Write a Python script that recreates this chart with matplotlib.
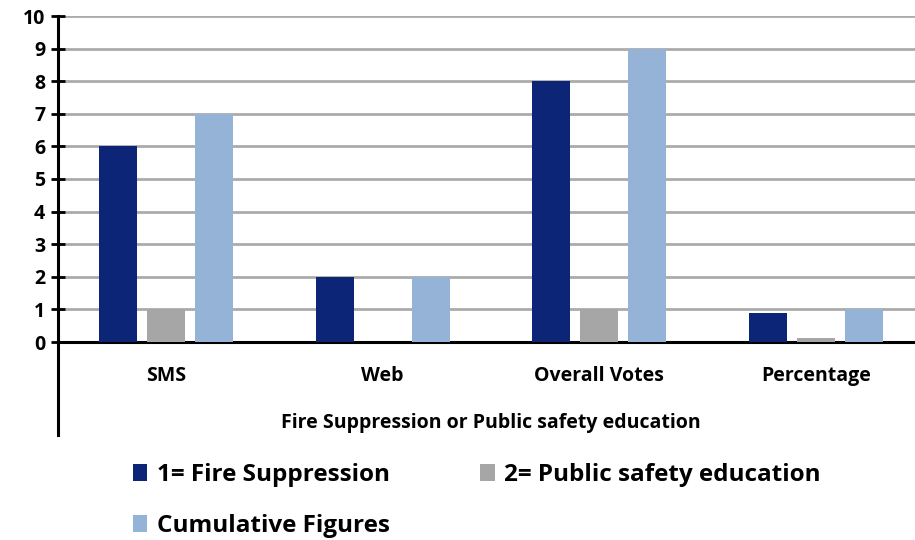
import numpy as np
import matplotlib
matplotlib.use('Agg')
import matplotlib.pyplot as plt

# Data
categories = ['SMS', 'Web', 'Overall Votes', 'Percentage']
fire = [6, 2, 8, 0.89]
public = [1, 0, 1, 0.11]
cumulative = [7, 2, 9, 1.0]
series_names = ['1= Fire Suppression', '2= Public safety education', 'Cumulative Figures']
colors = ['#0D2577', '#A6A6A6', '#95B3D7']

plt.rcParams['font.family'] = ['Open Sans', 'DejaVu Sans']
FW = 'bold'

fig = plt.figure(figsize=(9.15, 5.4), dpi=100)
W, H = 915, 540
ax = fig.add_axes([57.7 / W, 1 - 342 / H, 866.7 / W, 326 / H])

pos = np.arange(len(categories))
width = 0.175
off = 0.2215
b1 = ax.bar(pos - off, fire, width, color=colors[0], label=series_names[0], zorder=3)
b2 = ax.bar(pos, public, width, color=colors[1], label=series_names[1], zorder=3)
b3 = ax.bar(pos + off, cumulative, width, color=colors[2], label=series_names[2], zorder=3)

ax.set_xlim(-0.5, 3.5)
ax.set_ylim(0, 10)
ax.set_yticks(range(0, 11))
ax.yaxis.grid(True, color='#ABABAB', linewidth=2, zorder=0)
ax.set_axisbelow(True)

for s in ['top', 'right']:
    ax.spines[s].set_visible(False)
ax.spines['bottom'].set_linewidth(2.2)
ax.spines['left'].set_linewidth(2.2)
ax.spines['left'].set_bounds(-2.85, 10)

ax.tick_params(axis='y', direction='inout', length=10, width=2, labelsize=14, pad=4)
ax.tick_params(axis='x', length=0, labelsize=14, pad=17.5)
ax.set_xticks(pos)
ax.set_xticklabels(categories, fontweight=FW)
for t in ax.get_yticklabels():
    t.set_fontweight(FW)

ax.set_xlabel('Fire Suppression or Public safety education', fontsize=14,
              fontweight=FW, labelpad=19.5)

# row-wise order: fire, public / cumulative
fig.legend([b1, b3, b2], [series_names[0], series_names[2], series_names[1]], ncol=2,
           loc='upper left', bbox_to_anchor=(111 / W, 1 - 441 / H),
           frameon=False, prop={'weight': FW, 'size': 17.5},
           handlelength=0.6, handleheight=0.7, handletextpad=0.4,
           columnspacing=3.7, labelspacing=1.1)

fig.savefig('out.png', dpi=100)
